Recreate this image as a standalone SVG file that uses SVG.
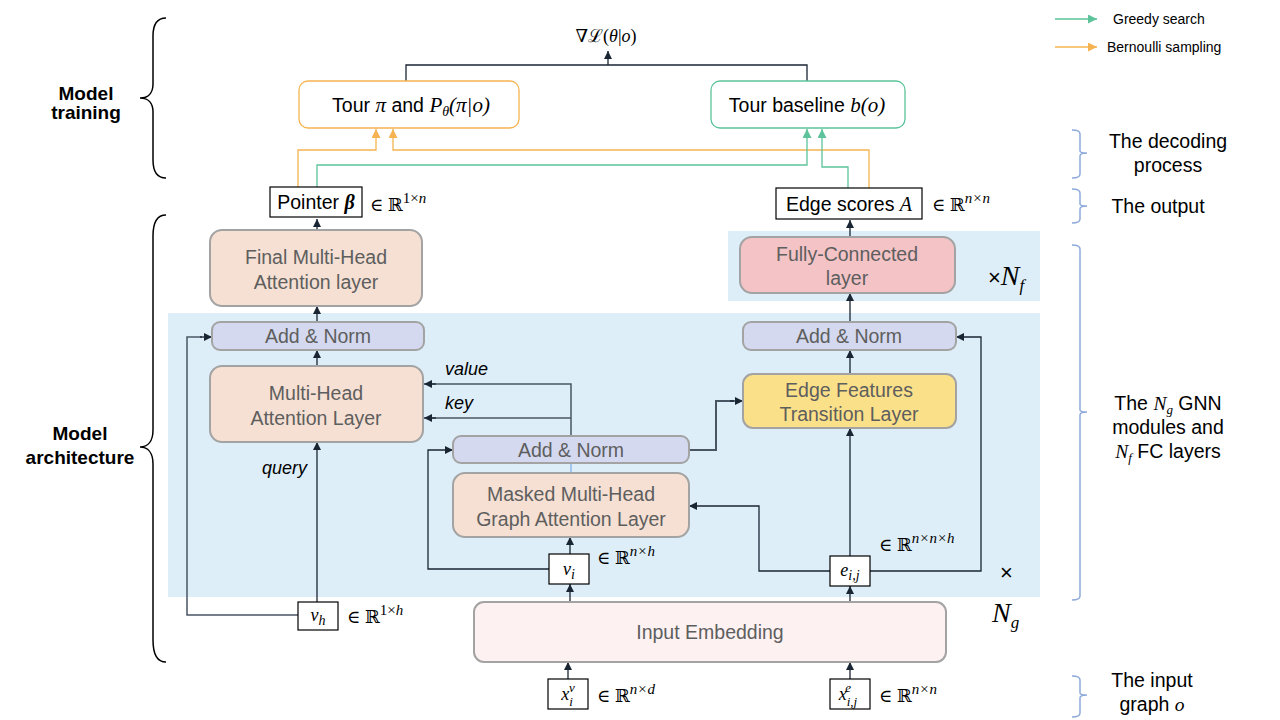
<svg xmlns="http://www.w3.org/2000/svg" width="1280" height="720" viewBox="0 0 1280 720">
<defs>
<marker id="ah" viewBox="0 0 10 10" refX="10" refY="5" markerWidth="9" markerHeight="8" markerUnits="userSpaceOnUse" orient="auto"><path d="M0,0 L10,5 L0,10 z" fill="#1a2533"/></marker>
<marker id="ahg" viewBox="0 0 10 10" refX="10" refY="5" markerWidth="10" markerHeight="9" markerUnits="userSpaceOnUse" orient="auto"><path d="M0,0 L10,5 L0,10 z" fill="#5cc39a"/></marker>
<marker id="aho" viewBox="0 0 10 10" refX="10" refY="5" markerWidth="10" markerHeight="9" markerUnits="userSpaceOnUse" orient="auto"><path d="M0,0 L10,5 L0,10 z" fill="#f5b451"/></marker>
</defs>
<style>
.bg{fill:#ddeef8}
.blk{fill:#f5e0d3;stroke:#a3a3a3;stroke-width:2}
.an{fill:#d4d9ef;stroke:#a3a3a3;stroke-width:2}
.lbl{font-family:"Liberation Sans",Arial,sans-serif;font-size:19.5px;fill:#5e5e5e;text-anchor:middle}
.txt{font-family:"Liberation Sans",Arial,sans-serif;font-size:19.5px;fill:#000}
.side{font-family:"Liberation Sans",Arial,sans-serif;font-size:19.5px;fill:#000;text-anchor:middle}
.bold{font-family:"Liberation Sans",Arial,sans-serif;font-size:19px;font-weight:bold;fill:#000;text-anchor:middle}
.m{font-family:"Liberation Serif","DejaVu Serif",serif;font-style:italic}
.r{font-family:"DejaVu Serif","Liberation Serif",serif;font-style:normal}
.math{font-family:"Liberation Serif","DejaVu Serif",serif;font-size:18px;fill:#000}
.box{fill:#fff;stroke:#000;stroke-width:1.2}
.ln{fill:none;stroke:#1a2533;stroke-width:1.3}
.lg{fill:none;stroke:#4a5563;stroke-width:2}
.gr{fill:none;stroke:#5cc39a;stroke-width:1.3}
.or{fill:none;stroke:#f5b451;stroke-width:1.3}
.br{fill:none;stroke:#000;stroke-width:1.5}
.bb{fill:none;stroke:#8eaadb;stroke-width:1.5}
.ital{font-family:"Liberation Sans",Arial,sans-serif;font-size:18px;font-style:italic;fill:#000}
</style>
<rect width="1280" height="720" fill="#fff"/>
<!-- backgrounds -->
<rect class="bg" x="168" y="313" width="872" height="284"/>
<rect class="bg" x="728" y="231" width="312" height="70"/>

<!-- connectors -->
<g id="connectors">
<path class="ln" d="M406,81 V65 H807 V81"/>
<path class="ln" d="M608,65 V51" marker-end="url(#ah)"/>
<path class="or" d="M298,187 V150 H376 V129" marker-end="url(#aho)"/>
<path class="or" d="M869,188 V150 H393 V129" marker-end="url(#aho)"/>
<path class="gr" d="M317,187 V165 H807 V129" marker-end="url(#ahg)"/>
<path class="gr" d="M848,188 V167 H822 V129" marker-end="url(#ahg)"/>
<path class="ln" d="M317,230 V219" marker-end="url(#ah)"/>
<path class="ln" d="M317,322 V306" marker-end="url(#ah)"/>
<path class="ln" d="M317,366 V350" marker-end="url(#ah)"/>
<path class="ln" d="M317,602 V442" marker-end="url(#ah)"/>
<path class="lg" d="M298,615 H187 V337 H202" style="stroke-width:1.5"/>
<path class="ln" d="M200,337 H212" marker-end="url(#ah)"/>
<path class="lg" d="M571,436 V384 H432" style="stroke-width:1.5"/>
<path class="ln" d="M436,384 H424" marker-end="url(#ah)"/>
<path class="lg" d="M571,418 H432" style="stroke-width:1.5"/>
<path class="ln" d="M436,418 H424" marker-end="url(#ah)"/>
<path d="M571,463 V473" stroke="#6a9ee0" stroke-width="1"/>
<path class="lg" d="M689,450 H716 V401 H734"/>
<path class="ln" d="M730,401 H743" marker-end="url(#ah)"/>
<path class="ln" d="M549,569 H428 V450 H453" marker-end="url(#ah)"/>
<path class="ln" d="M570,554 V537" marker-end="url(#ah)"/>
<path class="ln" d="M830,571 H759 V506 H689" marker-end="url(#ah)"/>
<path class="ln" d="M870,571 H981 V337 H956" marker-end="url(#ah)"/>
<path class="ln" d="M850,556 V428" marker-end="url(#ah)"/>
<path class="ln" d="M850,374 V350" marker-end="url(#ah)"/>
<path class="ln" d="M850,322 V293" marker-end="url(#ah)"/>
<path class="ln" d="M850,237 V220" marker-end="url(#ah)"/>
<path class="ln" d="M570,602 V584" marker-end="url(#ah)"/>
<path class="ln" d="M850,602 V586" marker-end="url(#ah)"/>
<path class="ln" d="M568,679 V662" marker-end="url(#ah)"/>
<path class="ln" d="M850,679 V662" marker-end="url(#ah)"/>
</g>

<!-- top -->
<g id="grad"><text class="math" x="606" y="42" text-anchor="middle" font-size="22">∇ℒ(<tspan class="m">θ</tspan>|<tspan class="m">o</tspan>)</text></g>
<g id="tour">
<rect x="299" y="81" width="220" height="47" rx="9" fill="#fff" stroke="#f5b451" stroke-width="1.3"/>
<text class="txt" x="411" y="112" text-anchor="middle" font-size="20">Tour <tspan class="m" font-size="21">π</tspan> and <tspan class="m" font-size="21">P</tspan><tspan class="m" font-size="14" dy="4">θ</tspan><tspan class="m" font-size="21" dy="-4">(π|o)</tspan></text>
</g>
<g id="baseline">
<rect x="711" y="81" width="194" height="47" rx="9" fill="#fff" stroke="#5cc39a" stroke-width="1.3"/>
<text class="txt" x="807" y="112" text-anchor="middle" font-size="20">Tour baseline <tspan class="m" font-size="21">b(o)</tspan></text>
</g>
<g id="pointer">
<rect class="box" x="270" y="187" width="92" height="30"/>
<text class="txt" x="316" y="209" text-anchor="middle">Pointer <tspan class="m" font-weight="bold" font-size="20">β</tspan></text>
<text class="math" x="370" y="211">∈ <tspan class="r">ℝ</tspan><tspan font-size="15" dy="-8">1×<tspan class="m">n</tspan></tspan></text>
</g>
<g id="edgescores">
<rect class="box" x="776" y="188" width="146" height="31"/>
<text class="txt" x="849" y="211" text-anchor="middle">Edge scores <tspan class="m" font-size="20">A</tspan></text>
<text class="math" x="932" y="211">∈ <tspan class="r">ℝ</tspan><tspan class="m" font-size="15" dy="-8">n×n</tspan></text>
</g>

<!-- left blocks -->
<g id="final-mha">
<rect class="blk" x="210" y="230" width="212" height="76" rx="12"/>
<text class="lbl" x="316" y="264">Final Multi-Head</text>
<text class="lbl" x="316" y="289">Attention layer</text>
</g>
<g id="addnorm-left">
<rect class="an" x="212" y="322" width="212" height="28" rx="8"/>
<text class="lbl" x="318" y="343" font-size="20">Add &amp; Norm</text>
</g>
<g id="mha">
<rect class="blk" x="210" y="366" width="213" height="76" rx="12"/>
<text class="lbl" x="316" y="400">Multi-Head</text>
<text class="lbl" x="316" y="425">Attention Layer</text>
</g>
<text class="ital" x="445" y="375">value</text>
<text class="ital" x="445" y="409">key</text>
<text class="ital" x="262" y="474">query</text>

<g id="addnorm-mid">
<rect class="an" x="453" y="436" width="236" height="27" rx="8"/>
<text class="lbl" x="571" y="457" font-size="20">Add &amp; Norm</text>
</g>
<g id="masked">
<rect class="blk" x="453" y="473" width="236" height="64" rx="12"/>
<text class="lbl" x="571" y="501">Masked Multi-Head</text>
<text class="lbl" x="571" y="526">Graph Attention Layer</text>
</g>

<!-- right blocks -->
<g id="fc">
<rect x="740" y="237" width="215" height="56" rx="12" fill="#f3c3c6" stroke="#a3a3a3" stroke-width="2"/>
<text class="lbl" x="847" y="261">Fully-Connected</text>
<text class="lbl" x="847" y="285">layer</text>
</g>
<text x="988" y="285" font-family="Liberation Sans,Arial,sans-serif" font-size="22" fill="#000">×<tspan class="m" font-size="28">N</tspan><tspan class="m" font-size="17" dy="6">f</tspan></text>
<g id="addnorm-right">
<rect class="an" x="743" y="322" width="213" height="28" rx="8"/>
<text class="lbl" x="849" y="343" font-size="20">Add &amp; Norm</text>
</g>
<g id="edgefeat">
<rect x="743" y="374" width="213" height="54" rx="10" fill="#fbe08a" stroke="#a3a3a3" stroke-width="2"/>
<text class="lbl" x="849" y="397">Edge Features</text>
<text class="lbl" x="849" y="421">Transition Layer</text>
</g>

<!-- small variable boxes -->
<g id="vi">
<rect class="box" x="549" y="554" width="40" height="30"/>
<text class="math" x="569" y="575" text-anchor="middle" font-size="20"><tspan class="m">v</tspan><tspan class="m" font-size="14" dy="4">i</tspan></text>
<text class="math" x="597" y="564">∈ <tspan class="r">ℝ</tspan><tspan class="m" font-size="15" dy="-8">n×h</tspan></text>
</g>
<g id="eij">
<rect class="box" x="830" y="556" width="40" height="30"/>
<text class="math" x="850" y="576" text-anchor="middle" font-size="20"><tspan class="m">e</tspan><tspan class="m" font-size="14" dy="4">i,j</tspan></text>
<text class="math" x="879" y="551">∈ <tspan class="r">ℝ</tspan><tspan class="m" font-size="15" dy="-8">n×n×h</tspan></text>
</g>
<text x="1000" y="580" font-family="Liberation Sans,Arial,sans-serif" font-size="22" fill="#000">×</text>
<text x="992" y="622" font-family="Liberation Serif,serif" font-style="italic" font-size="28" fill="#000">N<tspan font-size="17" dy="6">g</tspan></text>
<g id="vh">
<rect class="box" x="298" y="602" width="40" height="28"/>
<text class="math" x="318" y="621" text-anchor="middle" font-size="20"><tspan class="m">v</tspan><tspan class="m" font-size="14" dy="4">h</tspan></text>
<text class="math" x="347" y="623">∈ <tspan class="r">ℝ</tspan><tspan font-size="15" dy="-8">1×<tspan class="m">h</tspan></tspan></text>
</g>
<g id="input">
<rect x="474" y="602" width="472" height="60" rx="10" fill="#fdf1f1" stroke="#a3a3a3" stroke-width="2"/>
<text class="lbl" x="710" y="639">Input Embedding</text>
</g>
<g id="xv">
<rect class="box" x="548" y="679" width="40" height="30"/>
<text class="math" x="568" y="700" text-anchor="middle" font-size="20"><tspan class="m">x</tspan><tspan class="m" font-size="13" dy="6">i</tspan><tspan class="m" font-size="13" dx="-4" dy="-14">v</tspan></text>
<text class="math" x="597" y="702">∈ <tspan class="r">ℝ</tspan><tspan class="m" font-size="15" dy="-8">n×d</tspan></text>
</g>
<g id="xe">
<rect class="box" x="830" y="679" width="40" height="30"/>
<text class="math" x="848" y="700" text-anchor="middle" font-size="20"><tspan class="m">x</tspan><tspan class="m" font-size="13" dy="6">i,j</tspan><tspan class="m" font-size="13" dx="-12" dy="-14">e</tspan></text>
<text class="math" x="879" y="702">∈ <tspan class="r">ℝ</tspan><tspan class="m" font-size="15" dy="-8">n×n</tspan></text>
</g>

<!-- legend -->
<g id="legend">
<path class="gr" d="M1055,19 H1097" marker-end="url(#ahg)"/>
<text x="1113" y="24" font-family="Liberation Sans,Arial,sans-serif" font-size="14" fill="#000">Greedy search</text>
<path class="or" d="M1055,47 H1097" marker-end="url(#aho)"/>
<text x="1107" y="52" font-family="Liberation Sans,Arial,sans-serif" font-size="14" fill="#000">Bernoulli sampling</text>
</g>

<!-- left braces -->
<g id="left-labels">
<path class="br" d="M166,18 C157,18 153,24 153,36 L153,84 C153,93 148,98 140,98 C148,98 153,103 153,112 L153,160 C153,172 157,178 166,178"/>
<text class="bold" x="86" y="100">Model</text>
<text class="bold" x="86" y="119">training</text>
<path class="br" d="M166,215 C157,215 153,222 153,236 L153,430 C153,441 148,447 140,447 C148,447 153,453 153,464 L153,640 C153,654 157,662 166,662"/>
<text class="bold" x="80" y="440">Model</text>
<text class="bold" x="80" y="464">architecture</text>
</g>

<!-- right braces -->
<g id="right-labels">
<path class="bb" d="M1072,130 C1077,130 1080,131 1080,134 L1080,151 C1080,152 1082,153 1087,153 C1082,153 1080,154 1080,156 L1080,174 C1080,177 1077,178 1072,178"/>
<text class="side" x="1168" y="148">The decoding</text>
<text class="side" x="1168" y="172">process</text>
<path class="bb" d="M1072,189 C1077,189 1080,190 1080,193 L1080,204 C1080,205 1082,206 1087,206 C1082,206 1080,207 1080,209 L1080,219 C1080,222 1077,223 1072,223"/>
<text class="side" x="1158" y="213">The output</text>
<path class="bb" d="M1072,245 C1077,245 1080,246 1080,249 L1080,410 C1080,411 1082,412 1087,412 C1082,412 1080,413 1080,415 L1080,596 C1080,599 1077,600 1072,600"/>
<text class="side" x="1168" y="410">The <tspan class="m">N</tspan><tspan class="m" font-size="13" dy="4">g</tspan><tspan dy="-4"> GNN</tspan></text>
<text class="side" x="1168" y="434">modules and</text>
<text class="side" x="1168" y="458"><tspan class="m">N</tspan><tspan class="m" font-size="13" dy="4">f</tspan><tspan dy="-4"> FC layers</tspan></text>
<path class="bb" d="M1072,676 C1077,676 1080,677 1080,680 L1080,693 C1080,694 1082,695 1087,695 C1082,695 1080,696 1080,698 L1080,713 C1080,716 1077,717 1072,717"/>
<text class="side" x="1152" y="687">The input</text>
<text class="side" x="1152" y="711">graph <tspan class="m">o</tspan></text>
</g>
</svg>
